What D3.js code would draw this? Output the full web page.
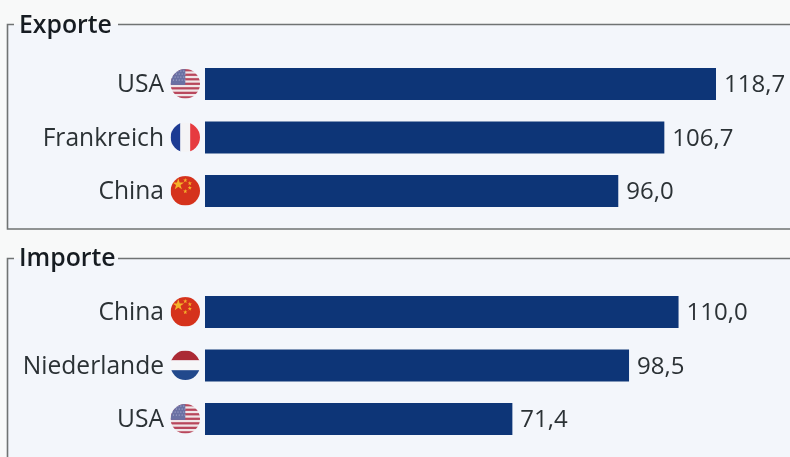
<!DOCTYPE html>
<html lang="de">
<head>
<meta charset="utf-8">
<script src="https://cdn.jsdelivr.net/npm/d3@7/dist/d3.min.js"></script>
<style>
html,body{margin:0;padding:0;background:#f8f9f9;}
svg{display:block;}
text{font-family:"Open Sans","Noto Sans",sans-serif;}
</style>
</head>
<body>
<svg id="chart" width="790" height="457"></svg>
<script>
// Handelsvolumen je Land
const exportCountries = ["USA", "Frankreich", "China"];
const exportValues = [118.7, 106.7, 96.0];
const importCountries = ["China", "Niederlande", "USA"];
const importValues = [110.0, 98.5, 71.4];
const panelTitles = ["Exporte", "Importe"];

const svg = d3.select("#chart");
const fmt = v => d3.format(".1f")(v).replace(".", ",");
const x = d3.scaleLinear().domain([0, 118.7]).range([205, 716]);
const defs = svg.append("defs");
const soft = defs.append("filter").attr("id", "soft")
  .attr("x", "-5%").attr("y", "-20%").attr("width", "110%").attr("height", "140%");
soft.append("feGaussianBlur").attr("stdDeviation", 0.4);

let flagId = 0;
function drawFlag(g, country, cx, cy, r) {
  const id = "flag" + (flagId++);
  defs.append("clipPath").attr("id", id).append("circle").attr("cx", cx).attr("cy", cy).attr("r", r);
  const f = g.append("g").attr("clip-path", `url(#${id})`);
  const band = (x0, y0, w, h, c) => f.append("rect").attr("x", x0).attr("y", y0).attr("width", w).attr("height", h).attr("fill", c);
  const l = cx - r, t = cy - r, d = 2 * r;
  if (country === "USA") {
    band(l, t, d, d, "#f0e6e8");
    d3.range(0, 7).forEach(i => band(l, t + i * 2 * d / 13, d, d / 13, "#b8475c"));
    band(l, t, d * 0.5, d * 7 / 13, "#6a6fa3");
    for (let i = 0; i < 4; i++) for (let j = 0; j < 5; j++) {
      f.append("circle").attr("cx", l + 1.6 + j * 2.9 + (i % 2) * 1.2).attr("cy", t + 1.8 + i * 3)
        .attr("r", 0.5).attr("fill", "#c9cbe2");
    }
  } else if (country === "Frankreich") {
    band(l, t, d / 3, d, "#1f3a93");
    band(l + d / 3, t, d / 3, d, "#f4f4f6");
    band(l + 2 * d / 3, t, d / 3, d, "#e63b3f");
  } else if (country === "Niederlande") {
    band(l, t, d, d / 3, "#ab2a36");
    band(l, t + d / 3, d, d / 3, "#f6f6f8");
    band(l, t + 2 * d / 3, d, d / 3, "#24498c");
  } else {
    band(l, t, d, d, "#d5301a");
    const star = d3.symbol().type(d3.symbolStar);
    const stars = [[-7, -6.5, 42], [0, -10.5, 6], [4.5, -7.5, 6], [4.5, -3, 6], [0, 0.5, 6]];
    stars.forEach(s => f.append("path").attr("d", star.size(s[2])())
      .attr("transform", `translate(${cx + s[0]},${cy + s[1]})`).attr("fill", "#f4b32c"));
  }
}

function drawPanel(title, countries, values, boxTop, boxBottom, titleY, gapEnd, barTops) {
  const y = d3.scaleOrdinal().domain(countries).range(barTops);
  const g = svg.append("g").attr("filter", "url(#soft)");
  g.append("rect").attr("x", 7).attr("y", boxTop).attr("width", 790).attr("height", boxBottom - boxTop)
    .attr("fill", "#f3f6fb");
  const line = d3.line();
  g.append("path")
    .attr("d", line([[14, boxTop], [7.5, boxTop], [7.5, boxBottom], [790, boxBottom]]))
    .attr("fill", "none").attr("stroke", "#6f7373").attr("stroke-width", 1.6);
  g.append("line").attr("x1", gapEnd).attr("x2", 790).attr("y1", boxTop).attr("y2", boxTop)
    .attr("stroke", "#6f7373").attr("stroke-width", 1.6);
  g.append("text").attr("x", 19).attr("y", titleY).attr("font-size", 24.8).attr("font-weight", 600)
    .attr("fill", "#181c20").text(title);

  const row = g.selectAll("g.row").data(countries).join("g").attr("class", "row");
  row.append("rect").attr("x", x(0)).attr("y", d => y(d)).attr("height", 32)
    .attr("width", (d, i) => x(values[i]) - x(0)).attr("fill", "#0f3677");
  row.append("text").attr("x", 164).attr("y", d => y(d) + 24).attr("text-anchor", "end")
    .attr("font-size", 24.6).attr("fill", "#2c3135").text(d => d);
  row.append("text").attr("x", (d, i) => x(values[i]) + 8).attr("y", d => y(d) + 24)
    .attr("font-size", 24).attr("fill", "#2c3135").text((d, i) => fmt(values[i]));
  row.each(function (d) { drawFlag(d3.select(this), d, 185.3, y(d) + 15.8, 14.7); });
}

drawPanel(panelTitles[0], exportCountries, exportValues, 24.5, 229, 33, 118, [68, 121.5, 175]);
drawPanel(panelTitles[1], importCountries, importValues, 258.5, 470, 266, 118, [296, 349.5, 403]);
</script>
</body>
</html>
